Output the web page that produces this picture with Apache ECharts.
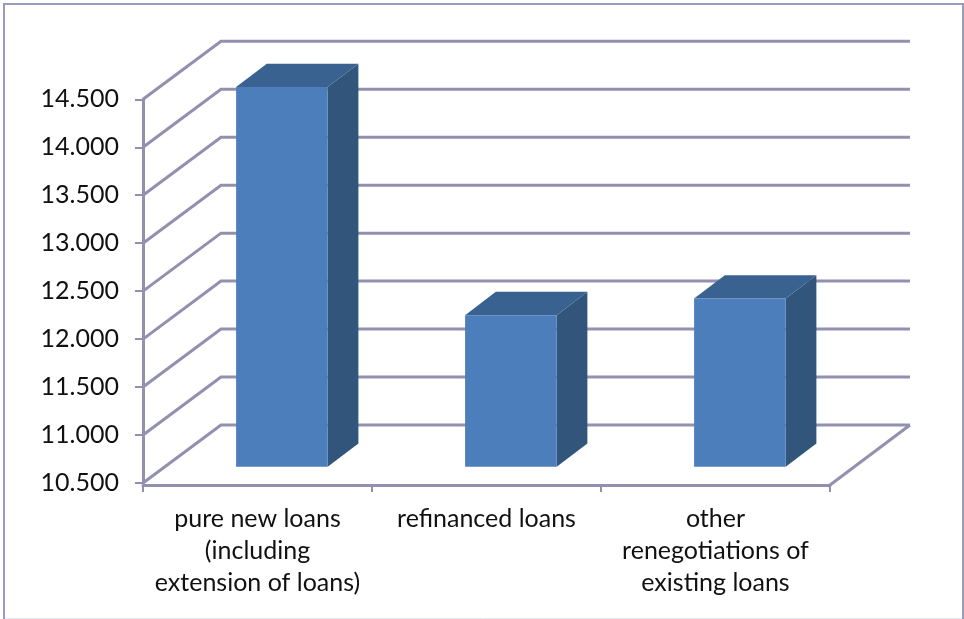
<!DOCTYPE html>
<html>
<head>
<meta charset="utf-8">
<style>html,body{margin:0;padding:0;background:#fff}#chart{width:964px;height:619px}</style>
<script src="https://cdn.jsdelivr.net/npm/echarts@6/dist/echarts.min.js"></script>
</head>
<body>
<div id="chart"></div>
<script>
// Loan volumes by type of new business
const categories = [
  'pure new loans\n(including\nextension of loans)',
  'refinanced loans',
  'other\nrenegotiations of\nexisting loans'
];
const loanValues = [14458, 12080, 12254];
const valueTicks = [10500, 11000, 11500, 12000, 12500, 13000, 13500, 14000, 14500];

// Oblique projection used for the pseudo 3D look, in pixels
const DEPTH_X = 78, DEPTH_Y = 58, RIGHT_EXTRA = 2;
const BAR_OFFSET_X = 24.4, BAR_OFFSET_Y = 16.3;
const BAR_DEPTH_X = 30.7, BAR_DEPTH_Y = 23.3, BAR_SHARE = 0.4;
const LINE = '#9390af', LINE_W = 3;

function renderWall(params, api) {
  const cs = params.coordSys;
  const p = api.coord([0, api.value(1)]);
  const y = p[1], x0 = cs.x, x1 = cs.x + cs.width;
  const style = { stroke: LINE, lineWidth: LINE_W, fill: null };
  const backRight = x1 + DEPTH_X + RIGHT_EXTRA;
  const pts = [[x0, y], [x0 + DEPTH_X, y - DEPTH_Y], [backRight, y - DEPTH_Y]];
  const children = [{ type: 'polyline', shape: { points: pts }, style, silent: true }];
  // the floor closes on the right-hand side
  if (api.value(1) === valueTicks[0]) {
    children.push({
      type: 'line',
      shape: { x1: x1, y1: y + 2, x2: backRight, y2: y - DEPTH_Y },
      style: { stroke: LINE, lineWidth: LINE_W }
    });
  }
  return { type: 'group', children };
}

function renderBar(params, api) {
  const idx = api.value(0);
  const center = api.coord([idx, valueTicks[0]]);
  const top = api.coord([idx, api.value(1)]);
  const w = api.size([1, 0])[0] * BAR_SHARE;
  const fx = center[0] - w / 2 + BAR_OFFSET_X;
  const dx = BAR_DEPTH_X, dy = BAR_DEPTH_Y;
  const yb = center[1] - BAR_OFFSET_Y, yt = top[1] - BAR_OFFSET_Y;
  return {
    type: 'group',
    children: [
      { type: 'polygon', shape: { points: [[fx + w, yt], [fx + w + dx, yt - dy], [fx + w + dx, yb - dy], [fx + w, yb]] }, style: { fill: '#32557c' } },
      { type: 'polygon', shape: { points: [[fx, yt], [fx + dx, yt - dy], [fx + w + dx, yt - dy], [fx + w, yt]] }, style: { fill: '#3a6290' } },
      { type: 'rect', shape: { x: fx, y: yt, width: w, height: yb - yt }, style: { fill: '#4c7ebb' } }
    ]
  };
}

const chart = echarts.init(document.getElementById('chart'), null, { renderer: 'canvas' });
chart.setOption({
  animation: false,
  backgroundColor: '#fff',
  textStyle: { fontFamily: 'Lato' },
  graphic: [
    {
      type: 'polyline', silent: true, z: 0,
      shape: { points: [[4, 619], [4, 4], [963, 4], [963, 619]] },
      style: { fill: null, stroke: '#9b99bd', lineWidth: 2 }
    },
    {
      type: 'line', silent: true, z: 0,
      shape: { x1: 5, y1: 618.5, x2: 962, y2: 618.5 },
      style: { stroke: '#e6e6f0', lineWidth: 1 }
    }
  ],
  grid: { left: 143, right: 134, top: 99.3, bottom: 136, containLabel: false },
  xAxis: {
    type: 'category',
    data: categories,
    offset: 2,
    axisLine: { show: true, lineStyle: { color: LINE, width: LINE_W } },
    axisTick: { show: true, alignWithLabel: false, length: 7, lineStyle: { color: LINE, width: 2 } },
    axisLabel: { interval: 0, color: '#111', fontSize: 25, lineHeight: 32, margin: 18, fontFamily: 'Lato' }
  },
  yAxis: {
    type: 'value',
    min: valueTicks[0],
    max: valueTicks[valueTicks.length - 1],
    interval: 500,
    splitLine: { show: false },
    axisLine: { show: true, lineStyle: { color: LINE, width: LINE_W } },
    axisTick: { show: true, length: 8, lineStyle: { color: LINE, width: 2 } },
    axisLabel: {
      color: '#111', fontSize: 25, margin: 24, fontFamily: 'Lato', padding: [2, 0, 0, 0],
      formatter: v => String(v).replace(/(\d{3})$/, '.$1')
    }
  },
  series: [
    {
      type: 'custom', name: 'wall', silent: true, z: 1, clip: false,
      renderItem: renderWall,
      data: valueTicks.map(t => [0, t]),
      encode: { x: 0, y: 1 }
    },
    {
      type: 'custom', name: 'loans', z: 3, clip: false,
      renderItem: renderBar,
      data: loanValues.map((v, i) => [i, v]),
      encode: { x: 0, y: 1 }
    }
  ]
});
</script>
</body>
</html>
